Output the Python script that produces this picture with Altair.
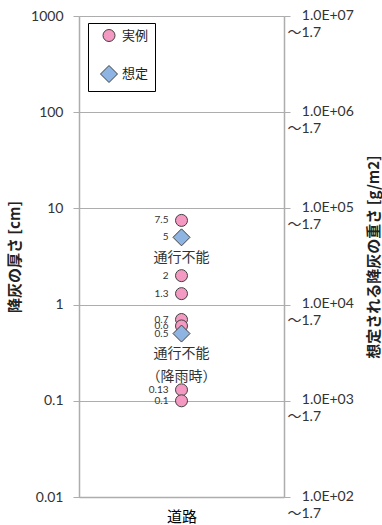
import altair as alt
import pandas as pd

# ---- data ----
categories = ["道路"]
series_names = ["実例", "想定"]
actual_values = [7.5, 2, 1.3, 0.7, 0.6, 0.13, 0.1]
assumed_values = [5, 0.5]
left_ticks = [0.01, 0.1, 1, 10, 100, 1000]
right_ticks = [1e2, 1e3, 1e4, 1e5, 1e6, 1e7]
note_texts = ["通行不能", "通行不能", "（降雨時）"]
note_values = [3.05, 0.307, 0.177]

rows = [{"cat": categories[0], "type": series_names[0], "v": v} for v in actual_values]
rows += [{"cat": categories[0], "type": series_names[1], "v": v} for v in assumed_values]
pts_df = pd.DataFrame(rows)
notes_df = pd.DataFrame({"cat": categories[0], "t": note_texts, "v": note_values})
right_df = pd.DataFrame({"cat": categories[0], "w": right_ticks})

NUM_FONT = "Lato, Noto Sans CJK JP"
JP_FONT = "Noto Sans CJK JP"
GRID = "#ADADAD"

x_enc = alt.X("cat:N", scale=alt.Scale(domain=categories),
              axis=alt.Axis(title=None, ticks=False, labelFont=JP_FONT, labelFontSize=15,
                            labelColor="black", labelPadding=12, domainColor=GRID,
                            domainWidth=1.5, labelAngle=0))

y_scale = alt.Scale(type="log", domain=[0.01, 1000], nice=False)
y_enc = alt.Y("v:Q", scale=y_scale,
              axis=alt.Axis(title="降灰の厚さ [cm]", values=left_ticks, format="~g",
                            grid=True, gridColor=GRID, gridWidth=1,
                            domainColor=GRID, domainWidth=1.5, tickColor=GRID,
                            tickSize=6, labelPadding=10, labelFont=NUM_FONT,
                            labelFontSize=14, labelColor="#333333",
                            titleFont=JP_FONT, titleFontSize=15, titleFontWeight="bold",
                            titleColor="#222222", titlePadding=8))

points = alt.Chart(pts_df).mark_point(filled=True, opacity=1, stroke="#404040",
                                      strokeWidth=1).encode(
    x=x_enc,
    y=y_enc,
    color=alt.Color("type:N", scale=alt.Scale(domain=series_names,
                                              range=["#F49AC2", "#8DB4E2"]),
                    legend=alt.Legend(title=None, orient="none", legendX=9, legendY=7,
                                      strokeColor="black", fillColor="white",
                                      padding=6, rowPadding=19, symbolSize=81,
                                      symbolOffset=6,
                                      symbolStrokeColor="#404040", symbolStrokeWidth=1,
                                      labelFont=JP_FONT, labelFontSize=13,
                                      labelColor="#222222", labelOffset=4)),
    shape=alt.Shape("type:N", scale=alt.Scale(domain=series_names,
                                              range=["circle", "diamond"])),
    size=alt.Size("type:N", scale=alt.Scale(domain=series_names, range=[144, 289]),
                  legend=None),
)

labels = alt.Chart(pts_df).mark_text(align="right", baseline="middle", dx=-13,
                                     font=NUM_FONT, fontSize=10, color="#333333").encode(
    x=x_enc, y=y_enc, text=alt.Text("v:Q", format="~g"))

notes = alt.Chart(notes_df).mark_text(align="center", baseline="middle",
                                      font=JP_FONT, fontSize=14, color="#333333").encode(
    x=x_enc, y=y_enc, text="t:N")

left = alt.layer(points, labels, notes)

# zero-width space keeps the following non-breaking spaces from being trimmed
PAD = "\u200b" + "\u00a0" * 4
right = alt.Chart(right_df).mark_point(opacity=0).encode(
    x=x_enc,
    y=alt.Y("w:Q", scale=alt.Scale(type="log", domain=[100, 1e7], nice=False),
            axis=alt.Axis(orient="right", title="想定される降灰の重さ [g/m2]",
                          values=right_ticks, grid=False,
                          labelExpr="['" + PAD + "1.0E+0' + round(log(datum.value)/LN10), '～1.7']",
                          labelAlign="left", labelBaseline="top", labelOffset=-8,
                          labelLineHeight=17, labelPadding=-3,
                          domainColor=GRID, domainWidth=1.5, tickColor=GRID, tickSize=6,
                          labelFont=NUM_FONT, labelFontSize=14, labelColor="#333333",
                          titleFont=JP_FONT, titleFontSize=15, titleFontWeight="bold",
                          titleColor="#222222", titleAngle=270, titlePadding=28)),
)

chart = alt.layer(left, right).resolve_scale(y="independent").properties(
    width=205, height=481,
    autosize=alt.AutoSizeParams(type="none"),
    padding={"left": 79, "top": 16, "right": 98, "bottom": 28},
).configure_view(stroke=None).configure(background="white")

chart.save("out.html", embed_options={"renderer": "svg", "actions": False})
